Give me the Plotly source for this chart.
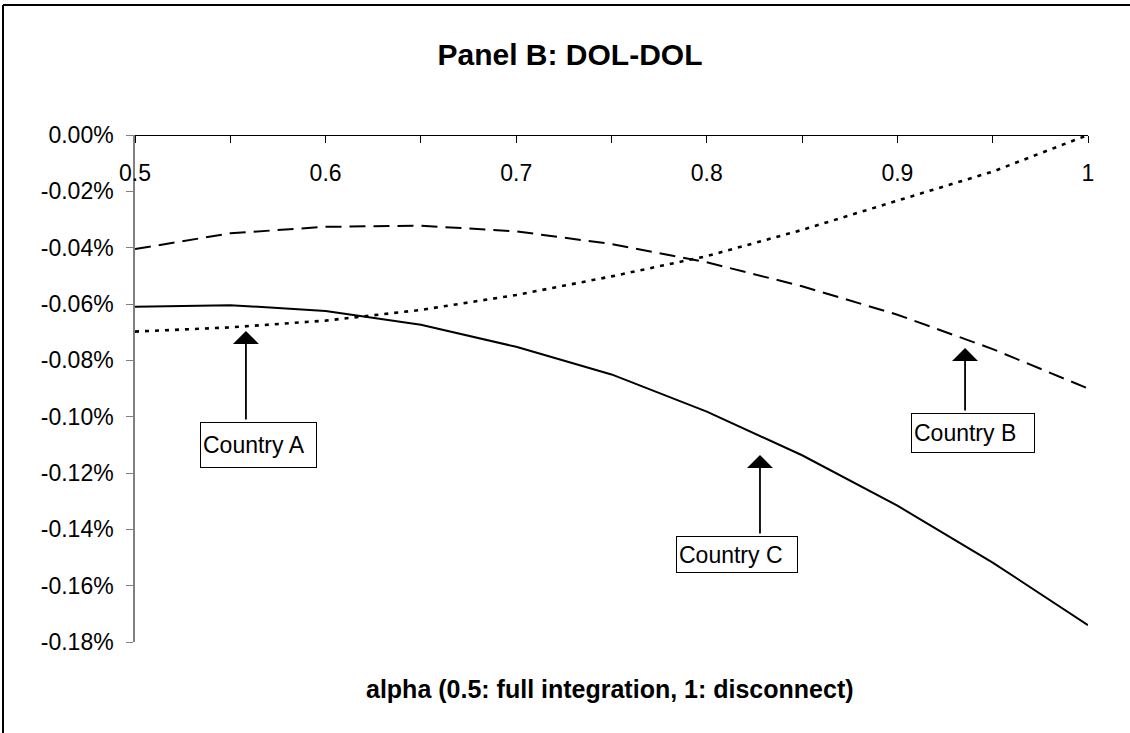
import plotly.graph_objects as go

# ---- data (values in percent) ----
alpha = [0.5, 0.55, 0.6, 0.65, 0.7, 0.75, 0.8, 0.85, 0.9, 0.95, 1.0]
country_a = [-0.0698, -0.0683, -0.0659, -0.0621, -0.0568, -0.0502, -0.0430, -0.0337, -0.0233, -0.0130, 0.0]
country_b = [-0.0405, -0.0349, -0.0326, -0.0322, -0.0342, -0.0387, -0.0452, -0.0537, -0.0638, -0.0760, -0.0900]
country_c = [-0.0610, -0.0604, -0.0625, -0.0674, -0.0752, -0.0850, -0.0982, -0.1137, -0.1316, -0.1518, -0.1740]

x_tickvals = [0.5, 0.6, 0.7, 0.8, 0.9, 1.0]
x_ticktext = ["0.5", "0.6", "0.7", "0.8", "0.9", "1"]
y_tickvals = [0.0, -0.02, -0.04, -0.06, -0.08, -0.10, -0.12, -0.14, -0.16, -0.18]
y_ticktext = ["0.00%", "-0.02%", "-0.04%", "-0.06%", "-0.08%", "-0.10%", "-0.12%", "-0.14%", "-0.16%", "-0.18%"]

title_text = "Panel B: DOL-DOL"
xaxis_title = "alpha (0.5: full integration, 1: disconnect)"

labels = ["Country A", "Country B", "Country C"]
box_x = [0.5648, 0.9397, 0.8158]
box_y = [-0.1100, -0.1058, -0.1489]
tip_x = [0.5582, 0.9355, 0.8279]
tip_y = [-0.0696, -0.0756, -0.1136]
arrow_len = [90, 64, 80]
box_w = [111, 118, 116]
box_h = [40, 34, 31]

FONT = "Arial, 'Liberation Sans', sans-serif"

W, H = 1130, 733
L, R, T, B = 135, 42, 135, 91
pw, ph = W - L - R, H - T - B

fig = go.Figure()
fig.add_trace(go.Scatter(x=alpha, y=country_a, mode="lines", name="Country A",
                         line=dict(color="black", width=2.6, dash="4px,6px")))
fig.add_trace(go.Scatter(x=alpha, y=country_b, mode="lines", name="Country B",
                         line=dict(color="black", width=2, dash="16px,8px")))
fig.add_trace(go.Scatter(x=alpha, y=country_c, mode="lines", name="Country C",
                         line=dict(color="black", width=2)))

annotations = []
for lab, bx, by, tx, ty, al, bw, bh in zip(labels, box_x, box_y, tip_x, tip_y, arrow_len, box_w, box_h):
    annotations.append(dict(x=tx, y=ty, xref="x", yref="y", text="", showarrow=True,
                            ax=0, ay=al, arrowhead=1, arrowsize=2.4, arrowwidth=1.8,
                            arrowcolor="black", standoff=0))
    annotations.append(dict(x=bx, y=by, xref="x", yref="y", text=lab, showarrow=False,
                            width=bw, height=bh, align="left", valign="middle",
                            bordercolor="black", borderwidth=1, borderpad=2, bgcolor="white",
                            font=dict(family=FONT, size=23, color="black")))

annotations.append(dict(x=(609.5 - L) / pw, y=(642 - 689) / ph, xref="paper", yref="paper",
                        text=f"<b>{xaxis_title}</b>",
                        showarrow=False, xanchor="center", yanchor="middle",
                        font=dict(family=FONT, size=25, color="black")))

# figure frame (only top and left edges visible)
fx = (3 - L) / pw
fy = 1 + (T - 5) / ph
shapes = [
    dict(type="line", xref="paper", yref="paper", x0=fx, y0=fy, x1=fx, y1=-1, line=dict(color="black", width=2)),
    dict(type="line", xref="paper", yref="paper", x0=fx, y0=fy, x1=2, y1=fy, line=dict(color="black", width=2)),
]

fig.update_layout(
    width=W, height=H,
    margin=dict(l=L, r=R, t=T, b=B, autoexpand=False),
    paper_bgcolor="white", plot_bgcolor="white",
    showlegend=False,
    title=dict(text=f"<b>{title_text}</b>", x=570 / W, xref="container", xanchor="center",
               y=1 - 54.5 / H, yref="container", yanchor="middle",
               font=dict(family=FONT, size=30, color="black")),
    font=dict(family=FONT, size=23, color="black"),
    annotations=annotations,
    shapes=shapes,
)
fig.update_xaxes(range=[0.5, 1.0], side="bottom", anchor="free", position=1.0,
                 showline=True, linecolor="black", linewidth=1,
                 ticks="outside", ticklen=7, tickcolor="black", tickwidth=1,
                 tickvals=x_tickvals, ticktext=x_ticktext, ticklabelstandoff=10,
                 minor=dict(dtick=0.05, tick0=0.5, ticks="outside", ticklen=7, tickcolor="black", showgrid=False),
                 showgrid=False, zeroline=False, automargin=False,
                 tickfont=dict(family=FONT, size=23, color="black"))
fig.update_yaxes(range=[-0.18, 0.0], showline=True, linecolor="#808080", linewidth=1.5,
                 ticks="outside", ticklen=7, tickcolor="#808080", tickwidth=1,
                 tickvals=y_tickvals, ticktext=y_ticktext, ticklabelstandoff=8,
                 showgrid=False, zeroline=False, automargin=False,
                 tickfont=dict(family=FONT, size=23, color="black"))

fig.write_html("out.html", config={"displayModeBar": False},
               post_script="document.body.style.margin='0';document.body.style.overflow='hidden';")
